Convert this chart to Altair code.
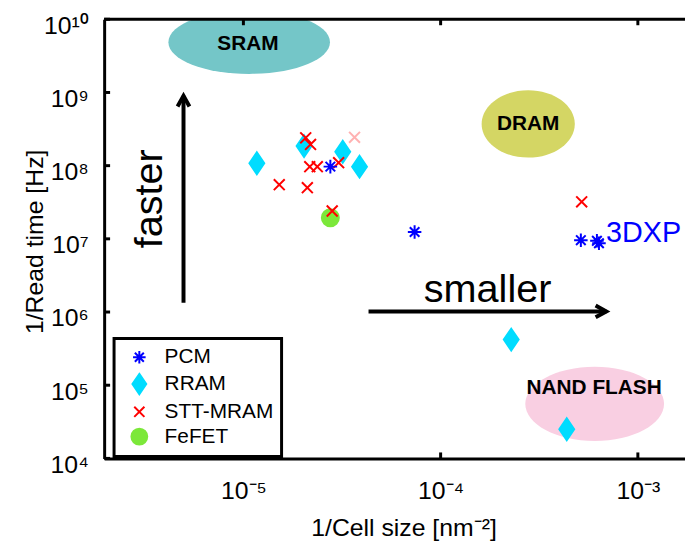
import json
import altair as alt
import pandas as pd

# ---------------- data ----------------
techs = ["PCM", "RRAM", "STT-MRAM", "FeFET"]
tech_colors = ["#0000ff", "#00dcff", "#ff0000", "#7ce83a"]
tech_fills = ["transparent", "#00dcff", "transparent", "#7ce83a"]

pcm_x = [2.76e-5, 7.38e-5, 5.14e-4, 6.2e-4, 6.35e-4]
pcm_y = [9.7e7, 1.24e7, 9.6e6, 9.4e6, 8.7e6]
rram_x = [1.17e-5, 2.03e-5, 3.19e-5, 3.88e-5, 2.28e-4, 4.36e-4]
rram_y = [1.08e8, 1.85e8, 1.55e8, 9.7e7, 4.2e5, 2.5e4]
stt_x = [2.07e-5, 2.19e-5, 2.17e-5, 2.37e-5, 3.04e-5, 1.52e-5, 2.11e-5, 2.82e-5, 5.19e-4]
stt_y = [2.4e8, 1.95e8, 9.7e7, 9.7e7, 1.1e8, 5.5e7, 5.0e7, 2.4e7, 3.2e7]
fefet_x = [2.76e-5]
fefet_y = [1.94e7]
faded_x = [3.66e-5]
faded_y = [2.44e8]

region_names = ["SRAM", "DRAM", "NAND FLASH"]
region_x = [1.07e-5, 2.78e-4, 6.04e-4]
region_y = [4.87e9, 3.72e8, 5.56e4]
region_label_x = [1.054e-5, 2.78e-4, 6.0e-4]
region_label_y = [4.58e9, 3.66e8, 9.1e4]
region_colors = ["#74c6c8", "#d4d664", "#f9cfe2"]

x_tick_values = [1e-5, 1e-4, 1e-3]
x_tick_labels = ["10⁻⁵", "10⁻⁴", "10⁻³"]
y_tick_values = [1e4, 1e5, 1e6, 1e7, 1e8, 1e9, 1e10]
y_tick_labels = ["10⁴", "10⁵", "10⁶", "10⁷", "10⁸", "10⁹", "10¹⁰"]

x_title = "1/Cell size [nm⁻²]"
y_title = "1/Read time [Hz]"

# annotation anchors (data units)
faster_x, faster_y = 3.85e-6, 3.53e7
smaller_x, smaller_y = 1.73e-4, 1.38e6
tag_x, tag_y, tag_text = 6.9e-4, 1.2e7, "3DXP"
v_arrow_x, v_arrow_y0, v_arrow_y1 = 4.97e-6, 1.34e6, 9.0e8
h_arrow_y, h_arrow_x0, h_arrow_x1 = 1.02e6, 4.31e-5, 6.92e-4

# ---------------- styling ----------------
FONT = "Liberation Sans"
W, H = 586, 443

star = "M0,-0.62L0,0.62M-0.62,0L0.62,0M-0.44,-0.44L0.44,0.44M-0.44,0.44L0.44,-0.44"
diamond = "M0,-1L0.68,0L0,1L-0.68,0Z"
cross = "M-0.5,-0.5L0.5,0.5M-0.5,0.5L0.5,-0.5"
circle = "M-0.78,0A0.78,0.78,0,1,1,0.78,0A0.78,0.78,0,1,1,-0.78,0Z"
tech_shapes = [star, diamond, cross, circle]

ell = lambda r: f"M-1,0A1,{r},0,1,1,1,0A1,{r},0,1,1,-1,0Z"
region_paths = [ell(0.393), ell(0.723), ell(0.536)]
region_sizes = [163 ** 2, 94 ** 2, 140 ** 2]

xs = alt.Scale(type="log", domain=[10 ** -5.706, 10 ** -2.761], nice=False)
ys = alt.Scale(type="log", domain=[1e4, 1e10], nice=False)

x_expr = json.dumps(x_tick_labels, ensure_ascii=False) + "[round(log(datum.value)/LN10)+5]"
y_expr = json.dumps(y_tick_labels, ensure_ascii=False) + "[round(log(datum.value)/LN10)-4]"

x_axis = alt.Axis(values=x_tick_values, labelExpr=x_expr, ticks=False, grid=False,
                  domainColor="black", domainWidth=3, labelFontSize=25, labelFont=FONT,
                  labelColor="black", labelPadding=20, labelFlush=False,
                  titleFontSize=25, titleFont=FONT, titleFontWeight="normal",
                  titleColor="black", titleX=302, titleY=78, titleAlign="center",
                  titleBaseline="alphabetic")
y_axis = alt.Axis(values=y_tick_values, labelExpr=y_expr, ticks=False, grid=False,
                  domainColor="black", domainWidth=3, labelFontSize=25, labelFont=FONT,
                  labelColor="black", labelPadding=16, labelOffset=6, labelFlush=False,
                  titleFontSize=25, titleFont=FONT, titleFontWeight="normal",
                  titleColor="black", titleX=-62, titleY=224, titleAngle=270,
                  titleAlign="center", titleBaseline="alphabetic")


def X(f):
    return alt.X(f, type="quantitative", scale=xs, axis=x_axis, title=x_title)


def Y(f):
    return alt.Y(f, type="quantitative", scale=ys, axis=y_axis, title=y_title)


# ---------------- tables ----------------
rows = []
for name, xv, yv in [("FeFET", fefet_x, fefet_y), ("RRAM", rram_x, rram_y),
                     ("STT-MRAM", stt_x, stt_y), ("PCM", pcm_x, pcm_y)]:
    for a, b in zip(xv, yv):
        rows.append({"x": a, "y": b, "tech": name})
pts = pd.DataFrame(rows)

regions = pd.DataFrame({"x": region_x, "y": region_y, "color": region_colors,
                        "path": region_paths, "size": region_sizes})
region_labels = pd.DataFrame({"x": region_label_x, "y": region_label_y, "text": region_names})
faded = pd.DataFrame({"x": faded_x, "y": faded_y})

# ---------------- layers ----------------
ellipses = alt.Chart(regions).mark_point(filled=True, opacity=1, strokeWidth=0, clip=True).encode(
    x=X("x"), y=Y("y"),
    fill=alt.Fill("color:N", scale=None),
    shape=alt.Shape("path:N", scale=None),
    size=alt.Size("size:Q", scale=None),
)

region_text = alt.Chart(region_labels).mark_text(
    font=FONT, fontSize=21, fontWeight="bold", color="black", align="center", baseline="middle"
).encode(x=X("x"), y=Y("y"), text="text:N")

arrow_df = pd.DataFrame({"x": [v_arrow_x, h_arrow_x0], "x2": [v_arrow_x, h_arrow_x1],
                         "y": [v_arrow_y0, h_arrow_y], "y2": [v_arrow_y1, h_arrow_y]})
arrow_lines = alt.Chart(arrow_df).mark_rule(color="black", strokeWidth=4).encode(
    x=X("x"), x2="x2:Q", y=Y("y"), y2="y2:Q")

head_df = pd.DataFrame({"x": [v_arrow_x, h_arrow_x1], "y": [v_arrow_y1, h_arrow_y],
                        "path": ["M-1,1.8L0,0L1,1.8", "M-1.8,-1L0,0L-1.8,1"]})
arrow_heads = alt.Chart(head_df).mark_point(filled=False, color="black", strokeWidth=4,
                                            size=144, opacity=1).encode(
    x=X("x"), y=Y("y"), shape=alt.Shape("path:N", scale=None))

faster_txt = alt.Chart(pd.DataFrame({"x": [faster_x], "y": [faster_y], "t": ["faster"]})).mark_text(
    font=FONT, fontSize=40, angle=270, align="center", baseline="alphabetic", color="black"
).encode(x=X("x"), y=Y("y"), text="t:N")

smaller_txt = alt.Chart(pd.DataFrame({"x": [smaller_x], "y": [smaller_y], "t": ["smaller"]})).mark_text(
    font=FONT, fontSize=40, align="center", baseline="alphabetic", color="black"
).encode(x=X("x"), y=Y("y"), text="t:N")

tag_txt = alt.Chart(pd.DataFrame({"x": [tag_x], "y": [tag_y], "t": [tag_text]})).mark_text(
    font=FONT, fontSize=29, align="left", baseline="middle", color="#0000ff"
).encode(x=X("x"), y=Y("y"), text="t:N")

faded_pt = alt.Chart(faded).mark_point(filled=False, color="#ff0000", opacity=0.3,
                                       strokeWidth=2, size=484, shape=cross).encode(
    x=X("x"), y=Y("y"))

leg = alt.Legend(title=None, orient="none", legendX=10, legendY=322, strokeColor="black",
                 padding=7.5, symbolOffset=6.5, labelOffset=14, rowPadding=2,
                 labelFont=FONT, labelFontSize=21, labelColor="black", symbolSize=420,
                 symbolStrokeWidth=2, fillColor="white", labelLimit=300)

points = alt.Chart(pts).mark_point(opacity=1, strokeWidth=2, size=484).encode(
    x=X("x"), y=Y("y"),
    shape=alt.Shape("tech:N", scale=alt.Scale(domain=techs, range=tech_shapes), legend=leg),
    stroke=alt.Stroke("tech:N", scale=alt.Scale(domain=techs, range=tech_colors), legend=leg),
    fill=alt.Fill("tech:N", scale=alt.Scale(domain=techs, range=tech_fills), legend=leg),
)

# inward tick marks and the top frame line
xt = pd.DataFrame({"x": x_tick_values})
yt = pd.DataFrame({"y": y_tick_values})
bottom_ticks = alt.Chart(xt).mark_rule(color="black", strokeWidth=3).encode(
    x=X("x"), y=alt.value(H), y2=alt.value(H - 6))
top_ticks = alt.Chart(xt).mark_rule(color="black", strokeWidth=3).encode(
    x=X("x"), y=alt.value(0), y2=alt.value(6))
left_ticks = alt.Chart(yt).mark_rule(color="black", strokeWidth=3).encode(
    y=Y("y"), x=alt.value(0), x2=alt.value(6))
top_line = alt.Chart(pd.DataFrame({"a": [0]})).mark_rule(color="black", strokeWidth=3).encode(
    x=alt.value(0), x2=alt.value(W), y=alt.value(0))

chart = alt.layer(
    ellipses, region_text, arrow_lines, arrow_heads, faster_txt, smaller_txt,
    faded_pt, points, tag_txt, bottom_ticks, top_ticks, left_ticks, top_line,
).properties(
    width=W, height=H,
    padding={"left": 97, "top": 9, "right": 0, "bottom": 87},
    autosize=alt.AutoSizeParams(type="none"),
).configure_view(stroke=None).configure_legend(strokeWidth=3)

chart.save("out.html", embed_options={"renderer": "svg", "actions": False})
